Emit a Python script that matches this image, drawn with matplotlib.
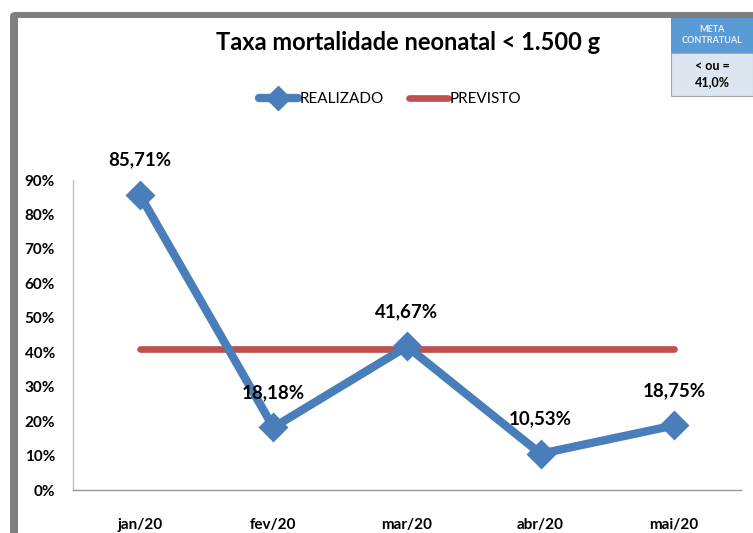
import matplotlib
matplotlib.use("Agg")
import matplotlib.pyplot as plt
from matplotlib.patches import Rectangle, FancyBboxPatch
from matplotlib.lines import Line2D

plt.rcParams['font.family'] = ['Lato', 'DejaVu Sans']

categories = ["jan/20", "fev/20", "mar/20", "abr/20", "mai/20"]
realizado = [85.71, 18.18, 41.67, 10.53, 18.75]
previsto = [41.0, 41.0, 41.0, 41.0, 41.0]
yticks = [0, 10, 20, 30, 40, 50, 60, 70, 80, 90]
title = "Taxa mortalidade neonatal < 1.500 g"
meta_header = "META\nCONTRATUAL"
meta_value = "< ou =\n41,0%"

W, H = 753, 533
fig = plt.figure(figsize=(W / 100, H / 100), dpi=100)
fig.patch.set_facecolor("white")

def fx(px):
    return px / W

def fy(py):
    return 1 - py / H

# gray frame (left and top)
frame_col = "#7f7f7f"
fig.patches.append(FancyBboxPatch((fx(10), fy(560)), fx(1200), fy(12) - fy(560),
                                  boxstyle="round,pad=0,rounding_size=0.008",
                                  transform=fig.transFigure, facecolor=frame_col,
                                  edgecolor="none", zorder=-3))
fig.patches.append(Rectangle((fx(18), fy(570)), fx(1200), fy(18) - fy(570),
                             transform=fig.transFigure, facecolor="white",
                             edgecolor="none", zorder=-2))

ax = fig.add_axes([fx(73), fy(490), fx(741) - fx(73), fy(180) - fy(490)])
ax.set_zorder(1)
ax.set_facecolor("none")
x = list(range(len(categories)))

ax.plot(x, previsto, color="#c0504d", lw=4.8, solid_capstyle="round", zorder=2)
ax.plot(x, realizado, color="#4a7ebb", lw=6, marker="D", markersize=13.5,
        markerfacecolor="#4a7ebb", markeredgecolor="#4a7ebb", markeredgewidth=2,
        solid_joinstyle="round", zorder=3, clip_on=False)

for xi, v in zip(x, realizado):
    ax.annotate(f"{v:.2f}%".replace(".", ","), (xi, v), xytext=(0, 25),
                textcoords="offset points", ha="center", va="center",
                fontsize=13.5, fontweight="bold", color="black", zorder=4,
                annotation_clip=False)

ax.set_xlim(-0.5, 4.5)
ax.set_ylim(0, 90)
ax.set_yticks(yticks)
ax.set_yticklabels([f"{t}%" for t in yticks], fontsize=11, fontweight="bold")
ax.set_xticks(x)
ax.set_xticklabels(categories, fontsize=11, fontweight="bold")
ax.tick_params(axis="both", length=0)
ax.tick_params(axis="y", pad=13)
ax.tick_params(axis="x", pad=20)
for s in ["top", "right"]:
    ax.spines[s].set_visible(False)
ax.spines["left"].set_color("#bfbfbf")
ax.spines["bottom"].set_color("#969696")
ax.spines["left"].set_linewidth(1)
ax.spines["bottom"].set_linewidth(1)

fig.text(fx(408), fy(42), title, ha="center", va="center", fontsize=17,
         fontweight="bold", color="black")

handles = [Line2D([], [], color="#4a7ebb", lw=6, marker="D", markersize=12,
                  solid_capstyle="round"),
           Line2D([], [], color="#c0504d", lw=4.8, solid_capstyle="round")]
leg = fig.legend(handles, ["REALIZADO", "PREVISTO"], loc="center",
                 bbox_to_anchor=(fx(390), fy(99)), ncol=2, frameon=False,
                 fontsize=11, handlelength=2.6, handletextpad=0.1,
                 columnspacing=1.6)

# meta box
fig.patches.append(Rectangle((fx(671), fy(53)), fx(753) - fx(671), fy(18) - fy(53),
                             transform=fig.transFigure, facecolor="#5b9bd5",
                             edgecolor="none", zorder=2))
fig.patches.append(Rectangle((fx(671), fy(96)), fx(753) - fx(671), fy(53) - fy(96),
                             transform=fig.transFigure, facecolor="#dce6f1",
                             edgecolor="#a6a6a6", lw=0.8, zorder=2))
fig.text(fx(712), fy(35), meta_header, ha="center", va="center", fontsize=6.5,
         fontweight="bold", color="#e8eef7", linespacing=1.3, zorder=3)
fig.text(fx(712), fy(74), meta_value, ha="center", va="center", fontsize=9,
         fontweight="bold", color="black", linespacing=1.4, zorder=3)

fig.savefig("out.png", dpi=100, facecolor="white")
